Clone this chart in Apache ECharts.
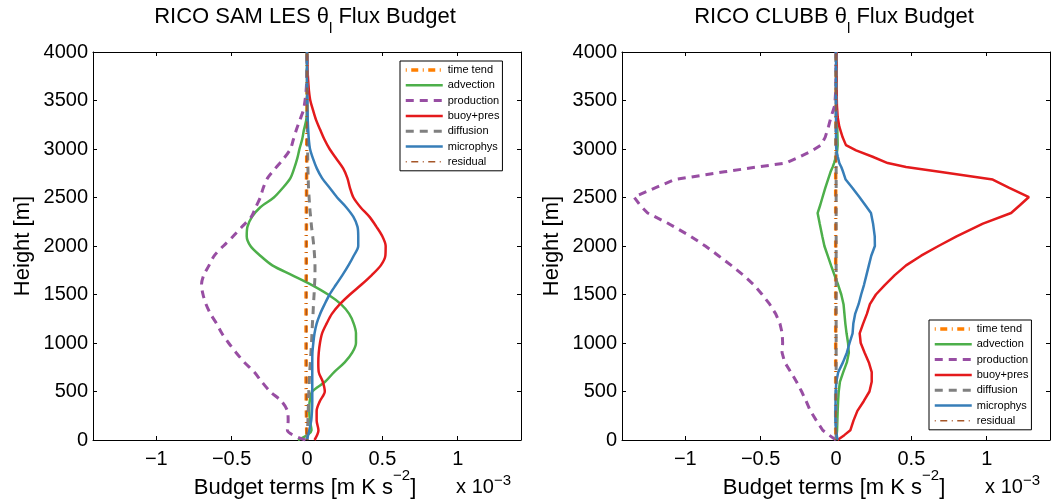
<!DOCTYPE html>
<html><head><meta charset="utf-8">
<script src="https://cdn.jsdelivr.net/npm/echarts@6/dist/echarts.min.js"></script>
<style>html,body{margin:0;padding:0;background:#fff}#c{width:1054px;height:501px}</style>
</head><body><div id="c"></div>
<script>
const seriesNames = ['time tend','advection','production','buoy+pres','diffusion','microphys','residual'];
const xTickValues = [-1, -0.5, 0, 0.5, 1];
const panelTitles = ['RICO SAM LES θ', 'RICO CLUBB θ'];
const xAxisLabel = 'Budget terms [m K s';
const xAxisLabelSup = '−2';
const yAxisLabel = 'Height [m]';
const exponentText = 'x 10';
const exponentSup = '−3';

const lesHeights = [0,100,200,300,400,500,600,700,800,900,
  1000,1100,1200,1300,1400,1500,1600,1700,1800,1900,
  2000,2100,2200,2300,2400,2500,2600,2700,2800,2900,
  3000,3100,3200,3300,3400,3500,3600,3700,3800,3900,
  4000];
const lesTimeTend = [0,-0.002,-0.003,-0.004,-0.005,-0.005,-0.006,-0.006,-0.006,-0.006,
  -0.006,-0.006,-0.006,-0.006,-0.006,-0.006,-0.006,-0.005,-0.005,-0.005,
  -0.005,-0.005,-0.004,-0.004,-0.004,-0.003,-0.003,-0.003,-0.002,-0.002,
  -0.002,-0.001,-0.001,-0.001,0,0,0,0,0,0,
  0];
const lesAdvection = [-0.06,0.03,0.02,0.015,0.018,0.035,0.12,0.18,0.25,0.3,
  0.325,0.325,0.31,0.28,0.225,0.14,0.03,-0.1,-0.23,-0.31,
  -0.375,-0.4,-0.395,-0.365,-0.31,-0.22,-0.16,-0.11,-0.085,-0.065,
  -0.05,-0.032,-0.02,-0.005,0,0,0,0,0,0,
  0];
const lesProduction = [-0.01,-0.13,-0.125,-0.13,-0.17,-0.245,-0.3,-0.35,-0.415,-0.47,
  -0.52,-0.565,-0.6,-0.64,-0.67,-0.69,-0.7,-0.685,-0.65,-0.615,
  -0.555,-0.49,-0.43,-0.37,-0.34,-0.31,-0.29,-0.262,-0.21,-0.155,
  -0.11,-0.09,-0.07,-0.047,-0.024,-0.013,-0.006,-0.002,0,0,
  0];
const lesBuoyPres = [0.05,0.076,0.064,0.064,0.085,0.118,0.105,0.078,0.075,0.078,
  0.086,0.1,0.13,0.165,0.218,0.285,0.36,0.43,0.49,0.52,
  0.522,0.5,0.46,0.415,0.355,0.308,0.285,0.268,0.24,0.195,
  0.15,0.115,0.087,0.06,0.04,0.022,0.013,0.008,0.004,0.002,
  0];
const lesDiffusion = [0,0.003,0.006,0.008,0.01,0.012,0.015,0.018,0.022,0.026,
  0.03,0.033,0.036,0.04,0.043,0.047,0.05,0.053,0.053,0.05,
  0.045,0.038,0.03,0.024,0.018,0.014,0.01,0.008,0.006,0.005,
  0.004,0.003,0.002,0.002,0.001,0,0,0,0,0,
  0];
const lesMicrophys = [0,0.015,0.028,0.033,0.035,0.035,0.035,0.035,0.035,0.036,
  0.042,0.05,0.064,0.087,0.117,0.15,0.192,0.235,0.275,0.31,
  0.34,0.34,0.335,0.308,0.26,0.2,0.15,0.1,0.065,0.04,
  0.02,0.012,0.008,0.005,0.003,0.002,0.001,0,0,0,
  0];
const lesResidual = [0,-0.003,-0.004,-0.004,-0.004,-0.004,-0.004,-0.004,-0.004,-0.004,
  -0.004,-0.004,-0.004,-0.004,-0.004,-0.004,-0.004,-0.004,-0.004,-0.004,
  -0.004,-0.004,-0.004,-0.003,-0.003,-0.003,-0.003,-0.003,-0.002,-0.002,
  -0.002,-0.002,-0.001,-0.001,-0.001,0,0,0,0,0,
  0];

const clubbHeights = [0,50,100,200,300,400,500,600,700,800,
  900,1000,1100,1200,1300,1400,1500,1600,1700,1800,
  1900,2000,2100,2230,2340,2420,2505,2600,2685,2765,
  2815,2855,2920,2985,3040,3120,3230,3330,3450,3600,
  3800,4000];
const clubbTimeTend = [0,-0.001,-0.002,-0.002,-0.002,-0.002,-0.002,-0.002,-0.002,-0.002,
  -0.002,-0.002,-0.002,-0.002,-0.002,-0.002,-0.002,-0.002,-0.002,-0.002,
  -0.002,-0.002,-0.002,-0.002,-0.002,-0.002,-0.002,-0.002,-0.002,-0.002,
  -0.002,-0.002,-0.002,-0.001,-0.001,-0.001,-0.001,-0.001,0,0,
  0,0];
const clubbAdvection = [0,0.004,0.007,0.009,0.011,0.014,0.018,0.026,0.048,0.072,
  0.085,0.08,0.07,0.062,0.056,0.05,0.035,0.014,-0.01,-0.033,
  -0.055,-0.077,-0.091,-0.108,-0.122,-0.105,-0.089,-0.071,-0.053,-0.036,
  -0.022,-0.013,0,0.008,0.011,0.01,0.008,0.006,0.005,0.004,
  0.003,0.003];
const clubbProduction = [0,-0.045,-0.088,-0.13,-0.17,-0.198,-0.228,-0.262,-0.3,-0.34,
  -0.358,-0.354,-0.357,-0.372,-0.4,-0.44,-0.49,-0.545,-0.615,-0.695,
  -0.78,-0.867,-0.965,-1.11,-1.25,-1.3,-1.34,-1.2,-1.07,-0.74,
  -0.52,-0.332,-0.24,-0.155,-0.1,-0.072,-0.05,-0.033,-0.008,-0.002,
  0,0];
const clubbBuoyPres = [0.01,0.055,0.095,0.116,0.142,0.184,0.222,0.237,0.237,0.218,
  0.19,0.164,0.157,0.18,0.205,0.225,0.265,0.325,0.39,0.465,
  0.565,0.68,0.8,0.975,1.162,1.22,1.28,1.15,1.04,0.686,
  0.465,0.343,0.243,0.133,0.066,0.044,0.022,0.011,0.006,0.004,
  0.003,0.003];
const clubbDiffusion = [0,0.001,0.001,0.001,0.001,0.001,0.001,0.001,0.001,0.001,
  0.001,0.001,0.001,0.001,0.001,0.001,0.001,0.001,0.001,0.001,
  0.001,0.001,0.001,0.001,0.001,0.001,0.001,0.001,0.001,0.001,
  0.001,0.001,0.001,0.001,0.001,0,0,0,0,0,
  0,0];
const clubbMicrophys = [0.01,0.005,0,-0.004,-0.004,-0.003,-0.002,0.002,0.015,0.046,
  0.072,0.09,0.11,0.115,0.127,0.15,0.167,0.186,0.202,0.218,
  0.234,0.258,0.257,0.246,0.232,0.195,0.155,0.108,0.064,0.047,
  0.035,0.022,0.012,0.003,0,0,0,0,0,0,
  0,0];
const clubbResidual = [0,0,-0.001,-0.001,-0.001,-0.001,-0.001,-0.001,-0.001,-0.001,
  -0.001,-0.001,-0.001,-0.001,-0.001,-0.001,-0.001,-0.001,-0.001,-0.001,
  -0.001,-0.001,-0.001,-0.001,-0.001,-0.001,-0.001,-0.001,-0.001,-0.001,
  -0.001,-0.001,-0.001,0,0,0,0,0,0,0,
  0,0];

const FONT = '"Liberation Sans", Arial, Helvetica, sans-serif';
const lineStyles = {
  'time tend': {color:'#FF7F00', width:3.5, type:[1,4.5,7,4.5]},
  'advection': {color:'#4DAF4A', width:2.5, type:'solid'},
  'production': {color:'#984EA3', width:3, type:[8,6]},
  'buoy+pres': {color:'#E41A1C', width:2.5, type:'solid'},
  'diffusion': {color:'#808080', width:3, type:[8,6]},
  'microphys': {color:'#377EB8', width:2.5, type:'solid'},
  'residual': {color:'#A65628', width:1.5, type:[1,4.5,7,4.5]}
};
const lesData = [lesTimeTend, lesAdvection, lesProduction, lesBuoyPres, lesDiffusion, lesMicrophys, lesResidual];
const clubbData = [clubbTimeTend, clubbAdvection, clubbProduction, clubbBuoyPres, clubbDiffusion, clubbMicrophys, clubbResidual];

function profile(vals, hs) { return vals.map((v, i) => [v, hs[i]]); }
const fmtX = v => v < 0 ? '\u2212' + Math.abs(v) : String(v);

const grids = [
  {left:93, top:52, width:428, height:388},
  {left:622, top:52, width:428, height:388}
];
const xAxes = [], yAxes = [];
grids.forEach((g, gi) => {
  ['bottom','top'].forEach(pos => {
    xAxes.push({type:'value', gridIndex:gi, position:pos, min:-1.42, max:1.42,
      axisLine:{show:true, onZero:false, lineStyle:{color:'#000', width:1}},
      axisTick:{show:true, inside:true, length:4, customValues:xTickValues, lineStyle:{color:'#000', width:1}},
      axisLabel:{show:pos==='bottom', customValues:xTickValues, formatter:fmtX, color:'#000', fontSize:20, fontFamily:FONT, margin:9},
      splitLine:{show:false}});
  });
  ['left','right'].forEach(pos => {
    yAxes.push({type:'value', gridIndex:gi, position:pos, min:0, max:4000, interval:500,
      axisLine:{show:true, onZero:false, lineStyle:{color:'#000', width:1}},
      axisTick:{show:true, inside:true, length:4, lineStyle:{color:'#000', width:1}},
      axisLabel:{show:pos==='left', formatter:v => String(v), color:'#000', fontSize:20, fontFamily:FONT, margin:5},
      splitLine:{show:false}});
  });
});

const series = [];
[[lesData, lesHeights, 0, 0.3], [clubbData, clubbHeights, 1, false]].forEach(([data, hs, gi, sm]) => {
  data.forEach((vals, k) => {
    const ls = lineStyles[seriesNames[k]];
    series.push({type:'line', name:seriesNames[k], xAxisIndex:gi*2, yAxisIndex:gi*2,
      data:profile(vals, hs), symbol:'none', showSymbol:false, smooth:sm,
      lineStyle:{color:ls.color, width:ls.width, type:ls.type}, itemStyle:{color:ls.color},
      emphasis:{disabled:true}, silent:true, animation:false});
  });
});

function legendAt(left, top) {
  return {orient:'vertical', left:left, top:top, backgroundColor:'#fff', borderColor:'#000', borderWidth:1,
    padding:[3,3,3,4], itemGap:3.3, itemWidth:37, itemHeight:12, selectedMode:false,
    textStyle:{fontSize:11, fontFamily:FONT, color:'#000', lineHeight:12},
    itemStyle:{opacity:0},
    data:seriesNames.map(n => ({name:n, itemStyle:{opacity:0},
      lineStyle:{color:lineStyles[n].color, width:lineStyles[n].width, type:lineStyles[n].type}}))};
}

function richText(x, y, text, rich, align, extra) {
  return Object.assign({type:'text', x:x, y:y, silent:true,
    style:{text:text, rich:rich, x:0, y:0, fill:'#000', align:align, textAlign:align, verticalAlign:'top', textVerticalAlign:'top',
      fontFamily:FONT, fontSize:22}}, extra || {});
}
const titleRich = {
  m:{fontSize:22, fontFamily:FONT, fill:'#000', color:'#000', height:26, verticalAlign:'top'},
  s:{fontSize:15, fontFamily:FONT, fill:'#000', color:'#000', height:15, padding:[17,0,0,0], verticalAlign:'top'}
};
const xlabRich = {
  m:{fontSize:22, fontFamily:FONT, fill:'#000', color:'#000', height:26, verticalAlign:'bottom'},
  s:{fontSize:15, fontFamily:FONT, fill:'#000', color:'#000', height:15, padding:[0,0,18.3,0], verticalAlign:'top'}
};
const expRich = {
  m:{fontSize:20, fontFamily:FONT, fill:'#000', color:'#000', height:24, verticalAlign:'bottom'},
  s:{fontSize:15, fontFamily:FONT, fill:'#000', color:'#000', height:15, padding:[0,0,11,0], verticalAlign:'top'}
};

const graphics = [];
grids.forEach((g, gi) => {
  const cx = g.left + g.width / 2 - 2;
  graphics.push(richText(cx, 4, '{m|' + panelTitles[gi] + '}{s|l}{m| Flux Budget}', titleRich, 'center'));
  graphics.push(richText(cx, 468, '{m|' + xAxisLabel + '}{s|' + xAxisLabelSup + '}{m|]}', xlabRich, 'center'));
  graphics.push(richText(g.left + g.width - 10, 473.5, '{m|' + exponentText + '}{s|' + exponentSup + '}', expRich, 'right'));
  graphics.push({type:'text', x:g.left - 70, y:g.top + g.height / 2, rotation:Math.PI / 2, silent:true,
    style:{text:yAxisLabel, x:0, y:0, fill:'#000', font:'22px ' + FONT, fontSize:22, fontFamily:FONT,
      align:'center', textAlign:'center', verticalAlign:'middle', textVerticalAlign:'middle'}});
});

const chart = echarts.init(document.getElementById('c'), null, {renderer:'canvas'});
chart.setOption({
  animation:false,
  backgroundColor:'#fff',
  grid:grids.map(g => Object.assign({outerBoundsMode:'none', containLabel:false}, g)),
  xAxis:xAxes, yAxis:yAxes,
  legend:[legendAt(400, 61), legendAt(929, 320)],
  series:series,
  graphic:graphics
});
</script></body></html>
